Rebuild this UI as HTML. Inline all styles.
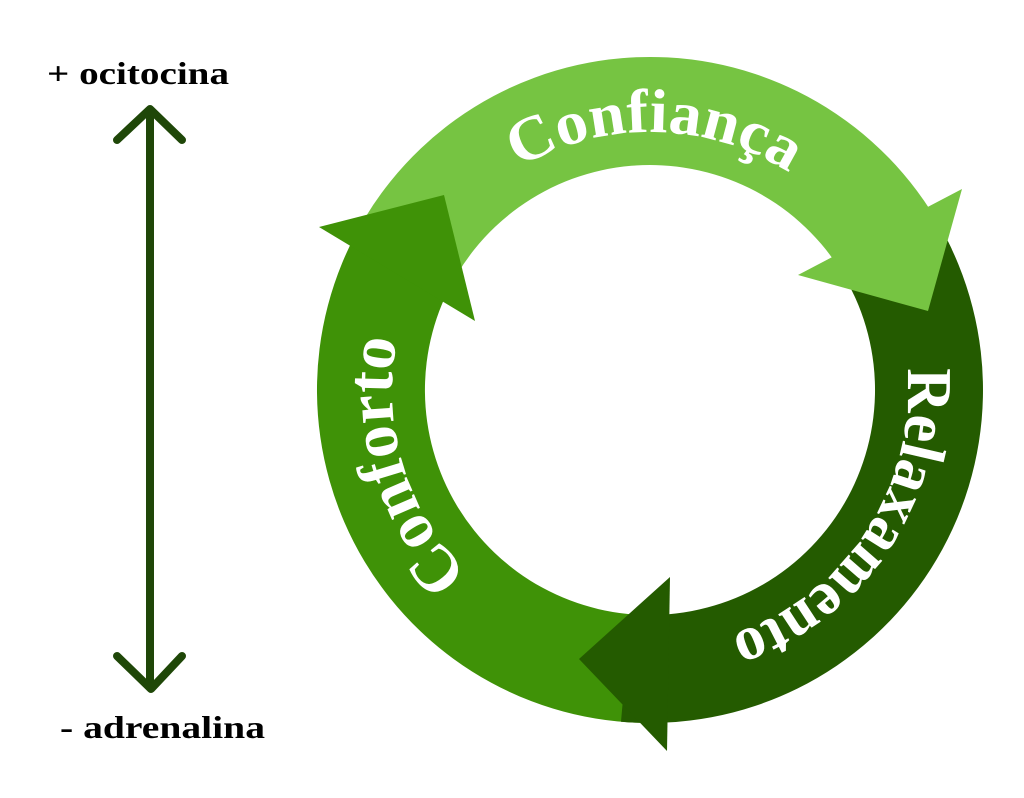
<!DOCTYPE html>
<html><head><meta charset="utf-8"><style>
html,body{margin:0;padding:0;background:#fff;}
svg{display:block;}
</style></head><body>
<svg width="1024" height="798" viewBox="0 0 1024 798" xmlns="http://www.w3.org/2000/svg">
<rect width="1024" height="798" fill="#fff"/>
<g stroke="#1f4708" stroke-width="8" stroke-linecap="round" stroke-linejoin="round" fill="none">
<line x1="150" y1="112" x2="150" y2="686"/>
<polyline points="117,140 150,109 182,140"/>
<polyline points="117,656 151,689 182,656"/>
</g>
<g font-family="Liberation Serif, serif" font-weight="bold" font-size="32" fill="#000">
<text x="47" y="84" textLength="182" lengthAdjust="spacingAndGlyphs">+ ocitocina</text>
<text x="60" y="738" textLength="205" lengthAdjust="spacingAndGlyphs">- adrenalina</text>
</g>
<path d="M364.6,218.5 A333,333 0 0 1 951.8,249.1 L853.9,294.8 A225,225 0 0 0 457.2,274.1 Z" fill="#76c442"/>
<path d="M661.6,722.8 A333,333 0 0 1 361.6,223.5 L455.1,277.5 A225,225 0 0 0 657.9,614.9 Z" fill="#3f9207"/>
<path d="M938.4,223.5 A333,333 0 0 1 621,721.7 L630.4,614.1 A225,225 0 0 0 844.9,277.5 Z" fill="#245b00"/>
<polygon points="962,189 928,311 798,275" fill="#76c442"/>
<polygon points="319,227 444,195 475,321" fill="#3f9207"/>
<polygon points="670,577 579,659 667,751" fill="#245b00"/>
<defs>
<path id="p1" d="M505.8,176.1 A258,258 0 0 1 801.7,181.3"/>
<path id="p2" d="M899.2,323.2 A258,258 0 0 1 685.9,645.4"/>
<path id="p3" d="M540.9,623.8 A258,258 0 0 1 428.9,257.1"/>
</defs>
<g font-family="Liberation Serif, serif" font-weight="bold" fill="#fff" text-anchor="middle">
<text font-size="62"><textPath href="#p1" startOffset="50%" textLength="285" lengthAdjust="spacingAndGlyphs">Confiança</textPath></text>
<text font-size="64"><textPath href="#p2" startOffset="50%" textLength="345" lengthAdjust="spacingAndGlyphs">Relaxamento</textPath></text>
<text font-size="66"><textPath href="#p3" startOffset="50%" textLength="255" lengthAdjust="spacingAndGlyphs">Conforto</textPath></text>
</g>
</svg>
</body></html>
